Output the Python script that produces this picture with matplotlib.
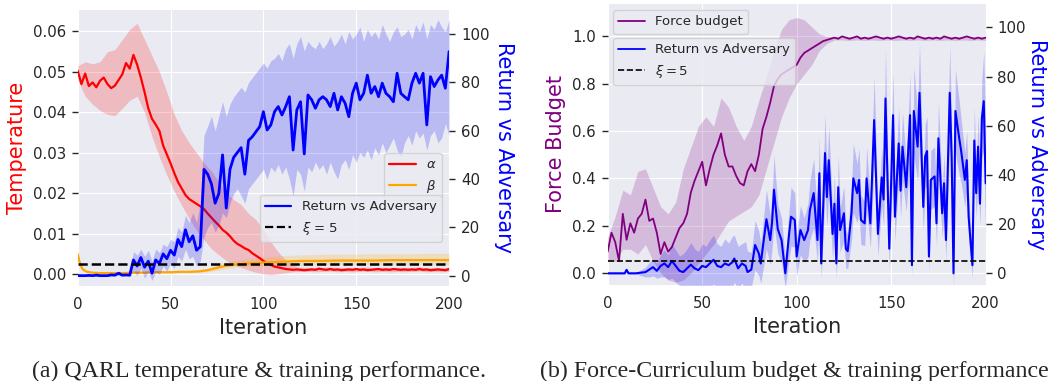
import numpy as np
import matplotlib
matplotlib.use("Agg")
import matplotlib.pyplot as plt
from matplotlib.lines import Line2D
import seaborn as sns

# ---------------- QARL run: temperatures and return ----------------
iters = np.arange(0, 201, 2)
band_iters = np.arange(0, 201, 4)

alpha_temp = [
    0.0503, 0.0470, 0.0496, 0.0465, 0.0474, 0.0462, 0.0478, 0.0486, 0.0470, 0.0460,
    0.0466, 0.0480, 0.0494, 0.0522, 0.0508, 0.0542, 0.0518, 0.0486, 0.0450, 0.0410,
    0.0384, 0.0370, 0.0354, 0.0318, 0.0296, 0.0274, 0.0250, 0.0228, 0.0212, 0.0196,
    0.0186, 0.0180, 0.0174, 0.0168, 0.0161, 0.0150, 0.0140, 0.0130, 0.0121, 0.0110,
    0.0103, 0.0094, 0.0083, 0.0075, 0.0070, 0.0064, 0.0060, 0.0052, 0.0046, 0.0040,
    0.0033, 0.0027, 0.0023, 0.0019, 0.0017, 0.0015, 0.0013, 0.0012, 0.0011, 0.0012,
    0.0011, 0.0010, 0.0011, 0.0012, 0.0011, 0.0014, 0.0012, 0.0011, 0.0013, 0.0011,
    0.0012, 0.0010, 0.0011, 0.0012, 0.0011, 0.0013, 0.0011, 0.0012, 0.0010, 0.0011,
    0.0012, 0.0013, 0.0011, 0.0012, 0.0011, 0.0013, 0.0012, 0.0011, 0.0012, 0.0011,
    0.0012, 0.0011, 0.0013, 0.0011, 0.0012, 0.0010, 0.0011, 0.0012, 0.0011, 0.0010,
    0.0013,
]
alpha_hi = [
    0.0515, 0.0525, 0.0520, 0.0525, 0.0550, 0.0555, 0.0580, 0.0605, 0.0620, 0.0580,
    0.0540, 0.0500, 0.0450, 0.0395, 0.0355, 0.0325, 0.0300, 0.0275, 0.0255, 0.0228,
    0.0200, 0.0185, 0.0172, 0.0150, 0.0135, 0.0110, 0.0080, 0.0055, 0.0035, 0.0022,
    0.0017, 0.0017, 0.0016, 0.0017, 0.0018, 0.0016, 0.0017, 0.0016, 0.0017, 0.0018,
    0.0016, 0.0017, 0.0016, 0.0017, 0.0016, 0.0017, 0.0018, 0.0016, 0.0017, 0.0016,
    0.0017,
]
alpha_lo = [
    0.0480, 0.0440, 0.0420, 0.0405, 0.0395, 0.0392, 0.0410, 0.0430, 0.0440, 0.0400,
    0.0340, 0.0290, 0.0245, 0.0205, 0.0170, 0.0138, 0.0108, 0.0085, 0.0063, 0.0048,
    0.0034, 0.0024, 0.0017, 0.0010, 0.0005, 0.0001, -0.0001, 0.0001, 0.0004, 0.0006,
    0.0007, 0.0007, 0.0006, 0.0007, 0.0008, 0.0006, 0.0007, 0.0006, 0.0007, 0.0008,
    0.0006, 0.0007, 0.0006, 0.0007, 0.0006, 0.0007, 0.0008, 0.0006, 0.0007, 0.0006,
    0.0007,
]

beta_iters = [0, 1, 2, 3, 5, 8, 12, 16, 20, 25, 30, 35, 40, 45, 50, 55, 60, 65, 70, 75,
              80, 85, 90, 95, 100, 105, 110, 115, 120, 130, 140, 150, 160, 170, 180, 190, 200]
beta_temp = [0.0050, 0.0030, 0.0018, 0.0011, 0.0006, 0.0004, 0.0003, 0.0003, 0.0003, 0.0003,
             0.0004, 0.0004, 0.0005, 0.0005, 0.0005, 0.0006, 0.0006, 0.0007, 0.0010, 0.0016,
             0.0021, 0.0024, 0.0026, 0.0028, 0.0029, 0.0030, 0.0031, 0.0032, 0.0033, 0.0033,
             0.0034, 0.0034, 0.0034, 0.0035, 0.0035, 0.0035, 0.0035]
beta_lo = [0.0046, 0.0026, 0.0015, 0.0009, 0.0004, 0.0002, 0.0002, 0.0002, 0.0002, 0.0002,
           0.0003, 0.0003, 0.0003, 0.0003, 0.0003, 0.0004, 0.0004, 0.0004, 0.0006, 0.0010,
           0.0014, 0.0017, 0.0019, 0.0020, 0.0021, 0.0022, 0.0022, 0.0023, 0.0023, 0.0023,
           0.0024, 0.0024, 0.0024, 0.0024, 0.0024, 0.0024, 0.0024]
beta_hi = [0.0054, 0.0034, 0.0021, 0.0013, 0.0008, 0.0006, 0.0005, 0.0005, 0.0005, 0.0005,
           0.0006, 0.0006, 0.0007, 0.0007, 0.0008, 0.0009, 0.0009, 0.0011, 0.0015, 0.0023,
           0.0030, 0.0034, 0.0037, 0.0040, 0.0042, 0.0044, 0.0046, 0.0047, 0.0048, 0.0049,
           0.0050, 0.0050, 0.0051, 0.0051, 0.0051, 0.0052, 0.0052]

qarl_return = [
    0.0, 0.0, 0.0, 0.1, 0.0, 0.2, 0.0, 0.0, 0.0, 0.3, 0.2, 1.0, 0.2, 0.3, 0.2,
    6.5, 4.0, 7.5, 3.5, 6.0, 1.0, 6.5, 5.0, 9.0, 7.0, 10.5, 8.5, 15.0, 12.0, 19.0,
    14.0, 16.5, 10.5, 12.0,
    44.0, 42.0, 38.0, 30.0, 34.0, 50.0, 28.0, 44.0, 49.0, 51.0, 53.0, 42.0, 56.0,
    57.5, 59.6, 61.7, 67.9, 60.3, 62.4, 67.9, 70.0, 66.5, 70.0,
    74.1, 52.0, 68.6, 72.0, 50.4, 74.8, 72.8, 69.3, 72.8, 74.1,
    72.8, 70.0, 75.5, 68.6, 74.1, 71.4, 65.8, 75.5, 79.7, 72.8,
    75.5, 83.0, 75.5, 78.3, 74.1, 79.7, 75.5, 74.1, 72.0, 83.8,
    75.5, 74.1, 72.8, 79.7, 83.8, 79.7, 83.8, 62.4, 82.4, 78.3,
    81.0, 83.0, 77.6, 92.8,
]
qarl_return_hi = [
    0.4, 0.4, 0.4, 0.5, 0.4, 0.6, 0.4, 0.4, 0.4, 0.7, 0.6, 1.8, 0.6, 0.7, 0.8,
    10.0, 8.5, 11.0, 8.0, 10.5, 6.0, 11.0, 9.5, 13.0, 12.0, 15.0, 14.0, 20.0, 18.0, 25.0,
    22.0, 26.0, 22.0, 30.0,
    58, 62, 66, 60, 66, 72, 66, 71, 74, 76, 78, 76, 80,
    82, 84, 86, 88, 86, 89, 90, 92, 89, 94,
    96, 90, 96, 99, 93, 97, 95, 94, 97, 94,
    96, 99, 95, 97, 100, 96, 101, 98, 100, 103,
    97, 102, 99, 101, 98, 104, 100, 97, 101, 103,
    99, 100, 102, 98, 104, 101, 105, 98, 104, 102,
    106, 103, 101, 106,
]
qarl_return_lo = [
    -0.3, -0.3, -0.3, -0.2, -0.3, -0.2, -0.3, -0.3, -0.3, -0.1, -0.2, 0.2, -0.2, -0.1, -0.3,
    2.0, 0.0, 3.0, -1.0, 1.5, -2.0, 1.5, 0.5, 4.0, 2.0, 5.0, 3.0, 8.0, 6.0, 11.0,
    7.0, 8.0, 4.0, 6.0,
    16, 20, 22, 18, 21, 26, 24, 30, 34, 36, 33, 30, 36,
    38, 40, 42, 44, 40, 45, 43, 46, 42, 45,
    40, 33, 44, 42, 35, 45, 43, 47, 44, 46,
    42, 47, 43, 40, 46, 48, 44, 50, 47, 51,
    49, 52, 48, 53, 50, 55, 51, 54, 57, 52,
    49, 55, 58, 54, 60, 57, 59, 52, 58, 60,
    55, 57, 63, 58,
]

# ---------------- Force-Curriculum run: budget and return ----------------
force_budget = [
    0.09, 0.17, 0.13, 0.05, 0.25, 0.14, 0.21, 0.17, 0.23, 0.25,
    0.31, 0.22, 0.23, 0.17, 0.08, 0.13, 0.09, 0.11, 0.15, 0.19, 0.21,
    0.25, 0.34, 0.39, 0.43, 0.47, 0.37, 0.44, 0.50, 0.54, 0.59,
    0.50, 0.45, 0.45, 0.41, 0.38, 0.37, 0.43, 0.46, 0.43, 0.50,
    0.61, 0.66, 0.72, 0.79, 0.82,
    0.84, 0.85, 0.86, 0.87, 0.88, 0.91, 0.93, 0.94, 0.95, 0.96,
    0.97, 0.98, 0.985, 0.99, 0.995,
    0.99, 1.0, 0.995, 0.99, 0.995, 1.0, 0.99, 0.995, 0.99, 0.995,
    1.0, 0.995, 0.99, 0.995, 0.99, 0.995, 1.0, 0.995, 0.99, 0.995,
    0.99, 1.0, 0.995, 0.99, 0.995, 0.99, 0.995, 0.99, 1.0, 0.995,
    0.99, 0.995, 0.99, 0.995, 1.0, 0.995, 0.99, 0.995, 0.99, 0.995,
]
force_budget_hi = [
    0.15, 0.24, 0.35, 0.33, 0.43, 0.44, 0.36, 0.28, 0.25, 0.30,
    0.44, 0.53, 0.62, 0.66, 0.62, 0.74, 0.70, 0.62, 0.56, 0.62,
    0.73, 0.83, 0.94, 1.03, 1.07, 1.08, 1.07, 1.04, 1.01, 1.00,
    1.00, 1.002, 1.0, 1.002, 1.0, 1.002, 1.0, 1.002, 1.0, 1.002,
    1.0, 1.002, 1.0, 1.002, 1.0, 1.002, 1.0, 1.002, 1.0, 1.002,
    1.0,
]
force_budget_lo = [
    0.05, 0.05, 0.10, 0.10, 0.08, 0.12, 0.05, 0.00, -0.03, -0.04,
    -0.03, 0.00, 0.04, 0.08, 0.12, 0.17, 0.22, 0.24, 0.26, 0.28,
    0.33, 0.44, 0.55, 0.66, 0.74, 0.80, 0.84, 0.88, 0.94, 0.97,
    0.985, 0.985, 0.983, 0.985, 0.983, 0.985, 0.983, 0.985, 0.983, 0.985,
    0.983, 0.985, 0.983, 0.985, 0.983, 0.985, 0.983, 0.985, 0.983, 0.985,
    0.983,
]

fc_iters = [
    0, 5, 9, 10, 11, 15, 20, 22, 24, 26, 28, 30, 32, 34, 36, 38, 40, 42, 44, 46,
    48, 50, 52, 54, 56, 58, 60, 62, 64, 66, 67, 69, 71, 73, 74, 76, 78, 80, 81, 84,
    86, 87, 88, 90, 92, 94, 96, 97, 99, 100, 102, 104, 106, 107, 109, 111, 112, 113, 115, 116,
    117, 119, 120, 121, 122, 123, 125, 126, 127, 129, 130, 132, 133, 134, 136, 137, 139, 141, 143, 145,
    146, 147, 149, 151, 152, 154, 155, 156, 158, 160, 161, 162, 164, 165, 167, 168, 169, 170, 171, 173,
    174, 175, 177, 178, 179, 181, 182, 183, 184, 186, 187, 189, 190, 191, 193, 194, 195, 196, 197, 198,
    199, 200,
]
fc_return = [
    0.0, 0.0, 0.0, 1.4, 0.0, 0.0, 0.5, 1.5, 2.5, 1.0, 3.0, 4.0, 2.5, 5.0, 3.0, 1.0, 0.5, 2.0, 3.5, 2.0,
    1.3, 3.0, 2.5, 4.0, 5.5, 3.0, 2.5, 4.0, 3.3, 4.5, 6.0, 2.0, 4.0, 3.0, 0.5, 1.5, 11.5, 8.0, 4.0, 22.0,
    13.5, 21.0, 34.0, 18.0, 13.5, 0.0, 16.0, 23.0, 21.7, 6.8, 17.6, 13.5, 17.6, 25.7, 32.6, 13.5, 40.7, 4.0, 48.9, 31.0,
    46.0, 16.0, 28.3, 4.0, 35.0, 17.6, 24.4, 10.0, 9.0, 24.4, 38.6, 32.6, 38.0, 21.7, 20.3, 38.6, 20.3, 62.3, 16.0, 39.0,
    30.0, 71.1, 10.0, 64.3, 23.0, 52.8, 33.6, 51.5, 35.0, 64.3, 3.3, 66.0, 51.5, 73.4, 27.0, 47.6, 49.7, 6.8, 38.0, 39.4,
    20.3, 54.9, 24.4, 36.6, 13.5, 73.4, 47.6, 0.0, 66.0, 55.0, 50.0, 38.0, 46.0, 23.0, 3.3, 54.0, 32.6, 51.5, 28.3, 63.0,
    70.0, 36.6,
]
fc_return_spread = [
    0.3, 0.3, 0.3, 0.8, 0.3, 0.3,
    2.0, 3.0, 3.5, 3.0, 4.5, 5.5, 5.0, 7.0, 6.5, 6.0, 7.5, 8.0, 9.0, 8.0,
    7.5, 9.0, 8.5, 9.5, 10.0, 9.0, 8.5, 10.0, 9.0, 10.5, 9.5, 9.0, 8.0, 10.0, 8.5, 7.0,
    10, 9, 8, 12, 10, 11, 14, 10, 9, 6,
    10, 12, 11, 8, 10, 9, 11, 12, 14, 9,
    15, 6, 16, 12, 14, 10, 12, 6, 13, 9,
    11, 8, 7, 11, 14, 12, 13, 10, 9, 13,
    10, 18, 9, 12, 11, 20, 8, 18, 10, 15,
    11, 14, 10, 17, 5, 18, 14, 20, 10, 13,
    14, 6, 12, 12, 9, 15, 10, 12, 8, 19,
    14, 6, 17, 15, 13, 11, 12, 9, 5, 14,
    10, 13, 9, 16, 20, 22,
]

xi_threshold = 5

# ---------------- styling ----------------
sns.set_style("darkgrid")
plt.rcParams["font.family"] = ["DejaVu Sans"]
plt.rcParams["mathtext.fontset"] = "dejavusans"

TICK_FS = 10.8
LABEL_FS = 15
LEGEND_FS = 9.5
CAPTION_FS = 17.2

fig = plt.figure(figsize=(10.49, 3.81), dpi=100)


def style_axes(ax, ax2):
    ax2.grid(False)
    ax.set_xlim(0, 200)
    ax.set_xticks([0, 50, 100, 150, 200])
    ax.tick_params(axis="x", length=0, pad=8, labelsize=TICK_FS, colors=".15")
    ax.tick_params(axis="y", left=True, length=4.5, width=1, color=".15",
                   labelsize=TICK_FS, labelcolor=".15", pad=4)
    ax2.tick_params(axis="y", right=True, length=4.5, width=1, color=".15",
                    labelsize=TICK_FS, labelcolor=".15", pad=4)
    ax.set_xlabel("Iteration", fontsize=LABEL_FS, color=".15")
    for sp in list(ax.spines.values()) + list(ax2.spines.values()):
        sp.set_visible(False)


# ---- (a) QARL ----
axA = fig.add_axes([0.0741, 0.2493, 0.354, 0.7245])
axA2 = axA.twinx()

axA.fill_between(band_iters, alpha_lo, alpha_hi, color="red", alpha=0.2, lw=0)
axA.plot(iters, alpha_temp, color="red", lw=1.6)
axA.fill_between(beta_iters, beta_lo, beta_hi, color="orange", alpha=0.2, lw=0)
axA.plot(beta_iters, beta_temp, color="orange", lw=1.6)

axA2.fill_between(iters, qarl_return_lo, qarl_return_hi, color="blue", alpha=0.2, lw=0)
axA2.plot(iters, qarl_return, color="blue", lw=2.0)
axA2.axhline(xi_threshold, color="black", ls="--", lw=1.8)

axA.set_ylim(-0.0029, 0.0653)
axA.set_yticks([0.0, 0.01, 0.02, 0.03, 0.04, 0.05, 0.06])
axA.set_yticklabels(["0.00", "0.01", "0.02", "0.03", "0.04", "0.05", "0.06"])
axA2.set_ylim(-4.3, 110)
axA2.set_yticks([0, 20, 40, 60, 80, 100])
style_axes(axA, axA2)
axA.set_ylabel("Temperature", fontsize=LABEL_FS, color="red")
axA2.set_ylabel("Return vs Adversary", fontsize=LABEL_FS, color="blue",
                rotation=270, va="bottom", labelpad=3)

legA1 = axA2.legend(handles=[Line2D([], [], color="red", lw=1.6),
                             Line2D([], [], color="orange", lw=1.6)],
                    labels=[r"$\alpha$", r"$\beta$"], loc="upper right",
                    bbox_to_anchor=(0.981, 0.482), borderaxespad=0,
                    fontsize=LEGEND_FS)
axA2.add_artist(legA1)
axA2.legend(handles=[Line2D([], [], color="blue", lw=1.6),
                     Line2D([], [], color="black", ls="--", lw=1.6)],
            labels=["Return vs Adversary", r"$\xi$ = 5"], loc="upper right",
            bbox_to_anchor=(0.981, 0.33), borderaxespad=0, fontsize=LEGEND_FS)

# ---- (b) Force-Curriculum ----
axB = fig.add_axes([0.5793, 0.252, 0.3603, 0.7375])
axB2 = axB.twinx()

axB.fill_between(band_iters, force_budget_lo, force_budget_hi, color="purple", alpha=0.2, lw=0)
axB.plot(iters, force_budget, color="purple", lw=1.3)

fc_ret = np.array(fc_return)
fc_spr = np.array(fc_return_spread)
axB2.fill_between(fc_iters, fc_ret - fc_spr, fc_ret + fc_spr, color="blue", alpha=0.2, lw=0)
axB2.plot(fc_iters, fc_return, color="blue", lw=1.5)
axB2.axhline(xi_threshold, color="black", ls="--", lw=1.2)

axB.set_ylim(-0.051, 1.137)
axB.set_yticks([0.0, 0.2, 0.4, 0.6, 0.8, 1.0])
axB2.set_ylim(-4.75, 109.5)
axB2.set_yticks([0, 20, 40, 60, 80, 100])
style_axes(axB, axB2)
axB.set_ylabel("Force Budget", fontsize=LABEL_FS, color="purple")
axB2.set_ylabel("Return vs Adversary", fontsize=LABEL_FS, color="blue",
                rotation=270, va="bottom", labelpad=1)

legB1 = axB2.legend(handles=[Line2D([], [], color="purple", lw=1.3)],
                    labels=["Force budget"], loc="upper left",
                    bbox_to_anchor=(0.014, 0.9786), borderaxespad=0,
                    fontsize=LEGEND_FS)
axB2.add_artist(legB1)
axB2.legend(handles=[Line2D([], [], color="blue", lw=1.3),
                     Line2D([], [], color="black", ls="--", lw=1.2)],
            labels=["Return vs Adversary", r"$\xi=5$"], loc="upper left",
            bbox_to_anchor=(0.014, 0.879), borderaxespad=0, fontsize=LEGEND_FS)

# ---- captions ----
fig.text(0.0305, 0.0092, "(a) QARL temperature & training performance.",
         fontsize=CAPTION_FS, family="Liberation Serif", ha="left", va="baseline")
fig.text(0.5148, 0.0092, "(b) Force-Curriculum budget & training performance",
         fontsize=CAPTION_FS, family="Liberation Serif", ha="left", va="baseline")

fig.savefig("out.png", dpi=100)
